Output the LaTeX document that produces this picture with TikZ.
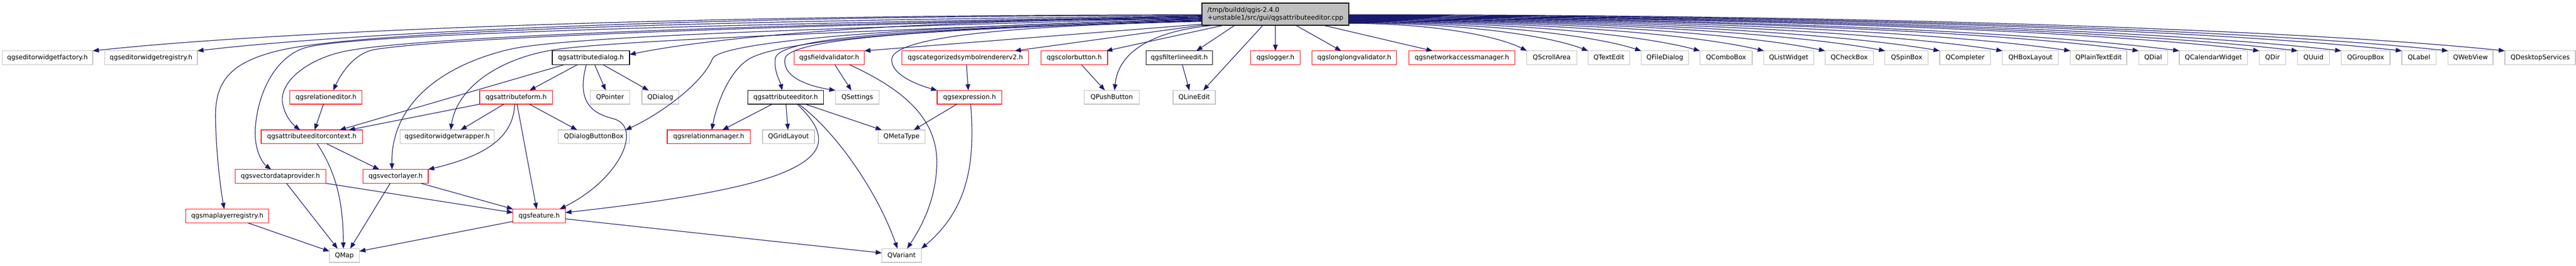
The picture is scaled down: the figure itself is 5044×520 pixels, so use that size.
\documentclass[tikz,border=0pt]{standalone}
\usepackage{fontspec}
\newfontfamily\dv{DejaVu Sans}
\usetikzlibrary{arrows.meta,calc}
\definecolor{edgec}{HTML}{191970}
\definecolor{lgray}{HTML}{BFBFBF}
\definecolor{redc}{HTML}{FF0000}
\definecolor{rootfill}{HTML}{BFBFBF}
\tikzset{
  base/.style={rectangle, minimum height=27pt, inner sep=0pt, outer sep=0pt, line width=1.3pt, fill=white, font={\dv\fontsize{12.7pt}{14.5pt}\selectfont}},
  gnode/.style={base, draw=lgray},
  rnode/.style={base, draw=redc},
  bnode/.style={base, draw=black},
  e/.style={draw=edgec, line width=1.2pt, -{Triangle[length=12pt,width=9pt]}},
}
\newcommand\fanedge[2]{\draw[e] let \p1=(#1), \p2=(#2) in (\p1) .. controls ({\x1+0.5*(\x2-\x1)},\y1) and ({\x1+0.85*(\x2-\x1)},{\y1+0.5*(\y2-\y1)}) .. (\p2);}
\begin{document}
\begin{tikzpicture}[x=1pt,y=1pt]
\useasboundingbox (0,0) rectangle (5044,-520);
% root
\node[base, draw=black, fill=rootfill, minimum width=287.5pt, minimum height=43.3pt, align=left] (root) at (2497.3,-27.7) {/tmp/buildd/qgis-2.4.0\\+unstable1/src/gui/qgsattributeeditor.cpp};
% row 1
\node[gnode, minimum width=177.3pt] (ewf) at (92.95,-113) {qgseditorwidgetfactory.h};
\node[gnode, minimum width=181.5pt] (ewr) at (295.75,-113) {qgseditorwidgetregistry.h};
\node[bnode, minimum width=151.2pt] (adlg) at (1157.1,-113) {qgsattributedialog.h};
\node[rnode, minimum width=137.7pt] (fval) at (1623.55,-113) {qgsfieldvalidator.h};
\node[rnode, minimum width=248.4pt] (cat) at (1890.2,-113) {qgscategorizedsymbolrendererv2.h};
\node[rnode, minimum width=131pt] (cbtn) at (2103.5,-113) {qgscolorbutton.h};
\node[bnode, minimum width=130.7pt] (fle) at (2309.05,-113) {qgsfilterlineedit.h};
\node[rnode, minimum width=96.7pt] (log) at (2497.35,-113) {qgslogger.h};
\node[rnode, minimum width=165.3pt] (llv) at (2651.65,-113) {qgslonglongvalidator.h};
\node[rnode, minimum width=207.6pt] (nam) at (2862.5,-113) {qgsnetworkaccessmanager.h};
\node[gnode, minimum width=97.6pt] (qsa) at (3038.4,-113) {QScrollArea};
\node[gnode, minimum width=81.9pt] (qte) at (3150.35,-113) {QTextEdit};
\node[gnode, minimum width=92.7pt] (qfd) at (3259.85,-113) {QFileDialog};
\node[gnode, minimum width=102.4pt] (qcb) at (3379.7,-113) {QComboBox};
\node[gnode, minimum width=97.5pt] (qlw) at (3502.45,-113) {QListWidget};
\node[gnode, minimum width=94.8pt] (qck) at (3620.9,-113) {QCheckBox};
\node[gnode, minimum width=84.7pt] (qsb) at (3733.35,-113) {QSpinBox};
\node[gnode, minimum width=99.6pt] (qcm) at (3847.8,-113) {QCompleter};
\node[gnode, minimum width=109.5pt] (qhb) at (3975.75,-113) {QHBoxLayout};
\node[gnode, minimum width=110.6pt] (qpt) at (4109.1,-113) {QPlainTextEdit};
\node[gnode, minimum width=56.5pt] (qdl) at (4215.95,-113) {QDial};
\node[gnode, minimum width=133.8pt] (qcw) at (4334.1,-113) {QCalendarWidget};
\node[gnode, minimum width=51.5pt] (qdr) at (4449.65,-113) {QDir};
\node[gnode, minimum width=62pt] (quu) at (4530,-113) {QUuid};
\node[gnode, minimum width=95.4pt] (qgb) at (4632,-113) {QGroupBox};
\node[gnode, minimum width=67pt] (qlb) at (4736.5,-113) {QLabel};
\node[gnode, minimum width=87.9pt] (qwv) at (4837.45,-113) {QWebView};
\node[gnode, minimum width=138.4pt] (qds) at (4973.8,-113) {QDesktopServices};
% row 2
\node[rnode, minimum width=141.4pt] (relEd) at (638.3,-190.4) {qgsrelationeditor.h};
\node[rnode, minimum width=142.7pt] (aform) at (1010.45,-190.4) {qgsattributeform.h};
\node[gnode, minimum width=77.6pt] (qptr) at (1194.5,-190.4) {QPointer};
\node[gnode, minimum width=72pt] (qdlg) at (1293,-190.4) {QDialog};
\node[bnode, minimum width=148.7pt] (aed) at (1538.35,-190.4) {qgsattributeeditor.h};
\node[gnode, minimum width=85.7pt] (qset) at (1678.65,-190.4) {QSettings};
\node[rnode, minimum width=126.8pt] (expr) at (1898.4,-190.4) {qgsexpression.h};
\node[gnode, minimum width=107.7pt] (qpb) at (2176.85,-190.4) {QPushButton};
\node[gnode, minimum width=82.9pt] (qle) at (2338.35,-190.4) {QLineEdit};
% row 3
\node[rnode, minimum width=198.2pt] (aectx) at (610.6,-267.8) {qgsattributeeditorcontext.h};
\node[gnode, minimum width=185pt] (eww) at (875.5,-267.8) {qgseditorwidgetwrapper.h};
\node[gnode, minimum width=139.7pt] (qdbb) at (1162.65,-267.8) {QDialogButtonBox};
\node[rnode, minimum width=163pt] (relMgr) at (1387.8,-267.8) {qgsrelationmanager.h};
\node[gnode, minimum width=101.8pt] (qgl) at (1543.9,-267.8) {QGridLayout};
\node[gnode, minimum width=92.2pt] (qmt) at (1765.3,-267.8) {QMetaType};
% row 4
\node[rnode, minimum width=177.6pt] (vdp) at (549,-345.2) {qgsvectordataprovider.h};
\node[rnode, minimum width=127.4pt] (vl) at (774.6,-345.2) {qgsvectorlayer.h};
% row 5
\node[rnode, minimum width=162.7pt] (mlr) at (445.05,-422.6) {qgsmaplayerregistry.h};
\node[rnode, minimum width=102.5pt] (feat) at (1055.75,-422.6) {qgsfeature.h};
% row 6
\node[gnode, minimum width=58.6pt] (qmap) at (674.3,-500) {QMap};
\node[gnode, minimum width=77.4pt] (qvar) at (1765.3,-500) {QVariant};

% ---- edges from root: right fan
\foreach \nm/\sh in {qsa/-18,qte/-17,qfd/-16,qcb/-15,qlw/-14,qck/-13,qsb/-12,qcm/-11,qhb/-10,qpt/-9,qdl/-8,qcw/-7,qdr/-6,quu/-5,qgb/-4,qlb/-3,qwv/-2,qds/-1}
  {\fanedge{[yshift=\sh pt]root.east}{\nm.north west}}
% root bottom edges
\draw[e] ([xshift=93.3pt]root.south) -- ([xshift=-57.5pt]nam.north);
\draw[e] ([xshift=39.7pt]root.south) -- ([xshift=-25.6pt]llv.north);
\draw[e] (root.south) -- (log.north);
\draw[e] ([xshift=-24.3pt]root.south) -- ([xshift=17.6pt]qle.north);
\draw[e] ([xshift=-79.3pt]root.south) -- ([xshift=33.5pt]fle.north);
\draw[e] ([xshift=-100.8pt]root.south) -- ([xshift=62.5pt]cbtn.north);
\draw[e] ([xshift=-117.3pt]root.south) .. controls (2270,-58) and (2190,-95) .. ([xshift=5.6pt]qpb.north);
\draw[e] (root.south west) -- ([xshift=96.8pt]cat.north);
\draw[e] ([yshift=2pt]root.south west) -- (fval.north east);
% root left fan
\fanedge{[yshift=-1.3pt]root.west}{ewf.north east}
\fanedge{[yshift=-2.3pt]root.west}{ewr.north east}
\fanedge{[yshift=-9.3pt]root.west}{[yshift=6.3pt]adlg.east}
\draw[e] ([yshift=-3.3pt]root.west) .. controls (1400,-40) and (700,-60) .. (542,-100) .. controls (450,-123) and (421,-160) .. (422,-230) .. controls (423,-300) and (432,-370) .. ([xshift=-6pt]mlr.north);
\draw[e] ([yshift=-4.3pt]root.west) .. controls (1500,-45) and (700,-65) .. (599,-93) .. controls (540,-110) and (505,-180) .. (500,-250) .. controls (497,-295) and (515,-320) .. ([xshift=-18pt]vdp.north);
\draw[e] ([yshift=-5.3pt]root.west) .. controls (1600,-45) and (800,-70) .. (668,-102) .. controls (600,-118) and (548,-160) .. (553,-200) .. controls (557,-228) and (575,-245) .. ([xshift=-23pt]aectx.north);
\draw[e] ([yshift=-6.3pt]root.west) .. controls (1700,-45) and (900,-70) .. (733,-97) .. controls (690,-105) and (665,-150) .. ([xshift=14pt]relEd.north);
\draw[e] ([yshift=-7.3pt]root.west) .. controls (1600,-55) and (1100,-72) .. (996,-97) .. controls (870,-127) and (765,-200) .. ([xshift=-7pt]vl.north);
\draw[e] ([yshift=-8.3pt]root.west) .. controls (1700,-60) and (1200,-80) .. (1088,-97) .. controls (980,-113) and (895,-170) .. ([xshift=7pt]eww.north);
\draw[e] ([yshift=-10.3pt]root.west) .. controls (1800,-50) and (1410,-80) .. (1395,-115) .. controls (1375,-165) and (1288,-226) .. ([xshift=62pt]qdbb.north);
\draw[e] ([yshift=-11.3pt]root.west) .. controls (1800,-55) and (1520,-80) .. (1464,-117) .. controls (1420,-147) and (1400,-220) .. ([xshift=6pt]relMgr.north);
\draw[e] ([yshift=-12.3pt]root.west) .. controls (1800,-55) and (1522,-72) .. (1518,-115) .. controls (1515,-140) and (1528,-160) .. ([xshift=-7pt]aed.north);
\draw[e] ([yshift=-13.3pt]root.west) .. controls (1900,-55) and (1545,-70) .. (1537,-115) .. controls (1532,-150) and (1580,-168) .. (qset.north west);
\draw[e] ([yshift=-14.3pt]root.west) .. controls (2000,-50) and (1746,-70) .. (1746,-117) .. controls (1746,-148) and (1800,-167) .. (expr.north west);

% ---- other edges
\draw[e] ([xshift=-5pt]relEd.south) -- ([xshift=5.4pt]aectx.north);
\draw[e] ([xshift=-52pt]adlg.south) -- ([xshift=54.4pt]aectx.north);
\draw[e] (aform.south west) -- ([xshift=72.4pt]aectx.north);
\draw[e] ([xshift=-23.8pt]aform.south) -- ([xshift=26.5pt]eww.north);
\draw[e] ([xshift=-2.5pt]aform.south) .. controls (1005,-270) and (950,-305) .. (vl.north east);
\draw[e] ([xshift=2pt]aform.south) -- ([xshift=-5pt]feat.north);
\draw[e] ([xshift=26pt]aform.south) -- ([xshift=-32.6pt]qdbb.north);
\draw[e] ([xshift=-26.3pt]adlg.south) -- ([xshift=26.5pt]aform.north);
\draw[e] ([xshift=7.3pt]adlg.south) -- ([xshift=-8.5pt]qptr.north);
\draw[e] ([xshift=23.5pt]adlg.south) -- ([xshift=-23pt]qdlg.north);
\draw[e] ([xshift=-9pt]adlg.south) .. controls (1128,-200) and (1160,-222) .. (1200,-232) .. controls (1260,-247) and (1215,-350) .. ([xshift=40.25pt]feat.north);
\draw[e] ([xshift=12pt]vdp.south) -- ([xshift=-13.3pt]qmap.north);
\draw[e] (vdp.south east) -- ([yshift=6.6pt]feat.west);
\draw[e] ([xshift=-10.6pt]vl.south) -- ([xshift=11.4pt]qmap.north);
\draw[e] ([xshift=49.4pt]vl.south) -- (feat.north west);
\draw[e] ([xshift=10.4pt]aectx.south) .. controls (660,-340) and (672,-400) .. ([xshift=-2pt]qmap.north);
\draw[e] ([xshift=29pt]aectx.south) -- ([xshift=-32pt]vl.north);
\draw[e] ([xshift=40pt]mlr.south) -- ([yshift=8.3pt]qmap.west);
\draw[e] ([yshift=-10.7pt]feat.west) -- ([yshift=8.3pt]qmap.east);
\draw[e] ([yshift=-5.7pt]feat.east) -- ([yshift=5pt]qvar.west);
\draw[e] ([xshift=-26.4pt]aed.south) -- ([xshift=26.8pt]relMgr.north);
\draw[e] ([xshift=0.6pt]aed.south) -- ([xshift=-1pt]qgl.north);
\draw[e] ([xshift=38.6pt]aed.south) -- ([xshift=-38.8pt]qmt.north);
\draw[e] ([xshift=22.6pt]aed.south) .. controls (1620,-260) and (1620,-300) .. (1540,-335) .. controls (1450,-375) and (1250,-400) .. ([yshift=6.6pt]feat.east);
\draw[e] ([xshift=25.6pt]aed.south) .. controls (1640,-260) and (1720,-380) .. ([xshift=-8pt]qvar.north);
\draw[e] ([xshift=11pt]fval.south) -- ([xshift=-11.6pt]qset.north);
\draw[e] ([xshift=39.5pt]fval.south) .. controls (1780,-180) and (1840,-240) .. (1834,-330) .. controls (1830,-400) and (1800,-450) .. ([xshift=11pt]qvar.north);
\draw[e] ([xshift=2.2pt]cat.south) -- ([xshift=-2.4pt]expr.north);
\draw[e] ([xshift=-25pt]expr.south) -- ([xshift=24pt]qmt.north);
\draw[e] ([xshift=2.2pt]expr.south) .. controls (1910,-320) and (1895,-410) .. (qvar.north east);
\draw[e] ([xshift=14pt]cbtn.south) -- ([xshift=-13.4pt]qpb.north);
\draw[e] ([xshift=6pt]fle.south) -- ([xshift=-9.5pt]qle.north);
\end{tikzpicture}
\end{document}
